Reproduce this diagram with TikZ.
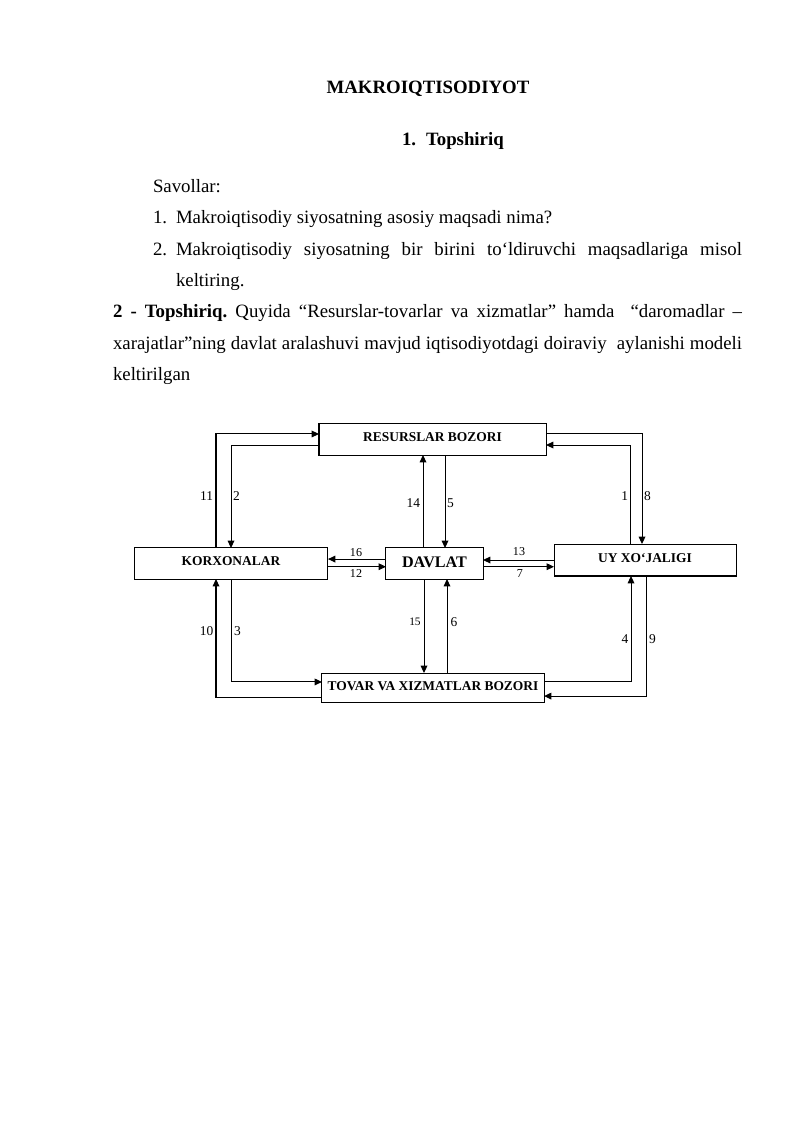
\documentclass[tikz,border=0pt]{standalone}
\usepackage{fontspec}
\setmainfont{Liberation Serif}
\usetikzlibrary{arrows.meta,calc}
\frenchspacing
\begin{document}
\begin{tikzpicture}[x=0.744pt,y=-0.744pt,
  every node/.style={inner sep=0pt,outer sep=0pt},
  body/.style={anchor=base west,font=\fontsize{14}{16}\selectfont},
  boxnode/.style={draw,line width=0.75pt,font=\fontsize{10}{12}\selectfont\bfseries,text depth=3.5pt},
  flow/.style={line width=0.75pt,-{Triangle[length=5.5pt,width=5pt]}},
  num/.style={font=\fontsize{10}{12}\selectfont},
  numsm/.style={font=\fontsize{9}{11}\selectfont}]
\useasboundingbox[fill=white] (0,0) rectangle (800,1131);

% ---------- text ----------
\node[anchor=base,font=\fontsize{14}{16}\selectfont\bfseries] (title) at (428,93.5) {MAKROIQTISODIYOT};
\node[body,font=\fontsize{14}{16}\selectfont\bfseries] (t1n) at (402,145.5) {1.};
\node[body,font=\fontsize{14}{16}\selectfont\bfseries] (t1) at (426,145.5) {Topshiriq};
\node[body] (sav) at (153,192.5) {Savollar:};
\node[body] (q1n) at (153,223.8) {1.};
\node[body] (q1) at (176,223.8) {Makroiqtisodiy siyosatning asosiy maqsadi nima?};
\node[body] (q2n) at (153,255.1) {2.};
\node[body] (q2) at (176,255.1) {\makebox[421.1pt][s]{Makroiqtisodiy siyosatning bir birini to‘ldiruvchi maqsadlariga misol}};
\node[body] (q2b) at (176,286.4) {keltiring.};
\node[body] (p1) at (113,317.7) {\makebox[468pt][s]{\textbf{2 - Topshiriq.} Quyida “Resurslar-tovarlar va xizmatlar” hamda\ \ “daromadlar –}};
\node[body] (p2) at (113,349) {\makebox[468pt][s]{xarajatlar”ning davlat aralashuvi mavjud iqtisodiyotdagi doiraviy\ \ aylanishi modeli}};
\node[body] (p3) at (113,380.3) {keltirilgan};

% ---------- boxes ----------
\node[boxnode,minimum width=168.9pt,minimum height=23.1pt] (res) at (432.5,439.5) {RESURSLAR BOZORI};
\node[boxnode,minimum width=144.3pt,minimum height=23.1pt] (kor) at (231,563.5) {KORXONALAR};
\node[boxnode,minimum width=72.2pt,minimum height=23.1pt,font=\fontsize{12}{14}\selectfont\bfseries,text depth=2.5pt] (dav) at (434.5,563.5) {DAVLAT};
\node[boxnode,minimum width=135.4pt,minimum height=23.8pt] (uy) at (645,560) {UY XO‘JALIGI};
\node[boxnode,minimum width=165.2pt,minimum height=22.3pt] (tov) at (433,688) {TOVAR VA XIZMATLAR BOZORI};

% ---------- helper coordinates ----------
\coordinate (cA) at (216,0);
\coordinate (cB) at (231,0);
\coordinate (cC) at (423,0);
\coordinate (cD) at (445,0);
\coordinate (cC2) at (424,0);
\coordinate (cD2) at (447,0);
\coordinate (cE) at (630,0);
\coordinate (cF) at (642,0);
\coordinate (cE2) at (631,0);
\coordinate (cG) at (646,0);
\coordinate (r11) at ([yshift=4.1pt]res.west);
\coordinate (r2) at ([yshift=-4.1pt]res.west);
\coordinate (r8) at ([yshift=4.1pt]res.east);
\coordinate (r1) at ([yshift=-4.1pt]res.east);
\coordinate (d16) at ([yshift=3.3pt]dav.west);
\coordinate (d12) at ([yshift=-2.4pt]dav.west);
\coordinate (d13) at ([yshift=2.6pt]dav.east);
\coordinate (d7) at ([yshift=-2.4pt]dav.east);
\coordinate (t3) at ([yshift=4.5pt]tov.west);
\coordinate (t10) at ([yshift=-6.7pt]tov.west);
\coordinate (t4) at ([yshift=4.5pt]tov.east);
\coordinate (t9) at ([yshift=-6pt]tov.east);

% ---------- connectors ----------
\draw[flow] (kor.north -| cA) |- (r11);
\draw[flow] (r2) -| (kor.north -| cB);
\draw[flow] (dav.north -| cC) -- (res.south -| cC);
\draw[flow] (res.south -| cD) -- (dav.north -| cD);
\draw[flow] (uy.north -| cE) |- (r1);
\draw[flow] (r8) -| (uy.north -| cF);
\draw[flow] (d16) -- (kor.east |- d16);
\draw[flow] (kor.east |- d12) -- (d12);
\draw[flow] (uy.west |- d13) -- (d13);
\draw[flow] (d7) -- (uy.west |- d7);
\draw[flow] (kor.south -| cB) |- (t3);
\draw[flow] (t10) -| (kor.south -| cA);
\draw[flow] (dav.south -| cC2) -- (tov.north -| cC2);
\draw[flow] (tov.north -| cD2) -- (dav.south -| cD2);
\draw[flow] (t4) -| (uy.south -| cE2);
\draw[flow] (uy.south -| cG) |- (t9);

% ---------- labels ----------
\node[num,anchor=east] (l11) at (213,496) {11};
\node[num,anchor=west] (l2) at (233,496) {2};
\node[num,anchor=east] (l14) at (420,503) {14};
\node[num,anchor=west] (l5) at (447,503) {5};
\node[num,anchor=east] (l1) at (628,496) {1};
\node[num,anchor=west] (l8) at (644,496) {8};
\node[numsm] (l16) at (356,553) {16};
\node[numsm] (l12) at (356,573.5) {12};
\node[numsm] (l13) at (519,552) {13};
\node[numsm] (l7) at (520,573.5) {7};
\node[num,anchor=east] (l10) at (213.3,631) {10};
\node[num,anchor=west] (l3) at (234,631) {3};
\node[font=\fontsize{8.5}{10}\selectfont,anchor=east] (l15) at (420.7,622) {15};
\node[num,anchor=west] (l6) at (450.7,622) {6};
\node[num,anchor=east] (l4) at (628.3,639) {4};
\node[num,anchor=west] (l9) at (649,639) {9};
\end{tikzpicture}
\end{document}
